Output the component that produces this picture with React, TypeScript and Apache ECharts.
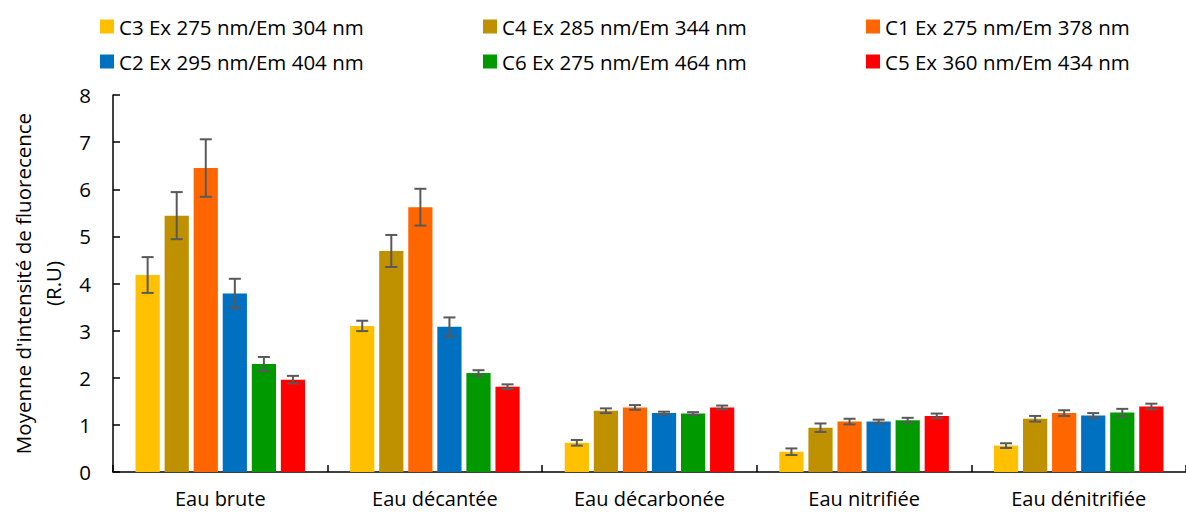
import React, { useEffect, useRef } from "react";
import * as echarts from "echarts";

const categories = ["Eau brute", "Eau décantée", "Eau décarbonée", "Eau nitrifiée", "Eau dénitrifiée"];
const seriesNames = [
  "C3 Ex 275 nm/Em 304 nm",
  "C4 Ex 285 nm/Em 344 nm",
  "C1 Ex 275 nm/Em 378 nm",
  "C2 Ex 295 nm/Em 404 nm",
  "C6 Ex 275 nm/Em 464 nm",
  "C5 Ex 360 nm/Em 434 nm",
];
const seriesColors = ["#FFC000", "#BF9000", "#FF6600", "#0070C0", "#009900", "#FF0000"];

const c3Values = [4.18, 3.1, 0.62, 0.43, 0.56];
const c4Values = [5.44, 4.69, 1.3, 0.94, 1.13];
const c1Values = [6.45, 5.62, 1.37, 1.07, 1.25];
const c2Values = [3.79, 3.08, 1.25, 1.07, 1.2];
const c6Values = [2.29, 2.1, 1.24, 1.1, 1.26];
const c5Values = [1.96, 1.81, 1.37, 1.19, 1.39];

const c3Errors = [0.38, 0.11, 0.06, 0.07, 0.05];
const c4Errors = [0.5, 0.34, 0.05, 0.09, 0.06];
const c1Errors = [0.61, 0.39, 0.05, 0.06, 0.06];
const c2Errors = [0.31, 0.2, 0.03, 0.04, 0.05];
const c6Errors = [0.15, 0.06, 0.03, 0.05, 0.08];
const c5Errors = [0.08, 0.05, 0.04, 0.05, 0.06];

const allValues = [c3Values, c4Values, c1Values, c2Values, c6Values, c5Values];
const allErrors = [c3Errors, c4Errors, c1Errors, c2Errors, c6Errors, c5Errors];

const yTicks = { min: 0, max: 8, interval: 1 };
const yAxisName = "Moyenne d'intensité de fluorecence\n(R.U)";

const FONT = "'Open Sans', sans-serif";
const CAT_GAP = 0.21;
const BAR_GAP = 0.2;

export default function App() {
  const ref = useRef<HTMLDivElement>(null);

  useEffect(() => {
    if (!ref.current) return;
    const chart = echarts.init(ref.current, undefined, { renderer: "svg" });
    const n = seriesNames.length;

    const barSeries = seriesNames.map((name, i) => ({
      name,
      type: "bar",
      data: allValues[i],
      barGap: `${BAR_GAP * 100}%`,
      barCategoryGap: `${CAT_GAP * 100}%`,
      itemStyle: { color: seriesColors[i] },
      z: 2,
    }));

    const errSeries = seriesNames.map((name, s) => ({
      name: "err-" + name,
      type: "custom",
      z: 5,
      silent: true,
      data: allValues[s].map((v, k) => [k, v, allErrors[s][k]]),
      encode: { x: 0, y: 1 },
      renderItem: (params: any, api: any) => {
        const k = api.value(0);
        const mean = api.value(1);
        const err = api.value(2);
        const band = api.size([1, 0])[0];
        const bw = (band * (1 - CAT_GAP)) / (n + (n - 1) * BAR_GAP);
        const gap = bw * BAR_GAP;
        const total = n * bw + (n - 1) * gap;
        const cx = api.coord([k, 0])[0] - total / 2 + s * (bw + gap) + bw / 2;
        const yTop = api.coord([k, mean + err])[1];
        const yBot = api.coord([k, mean - err])[1];
        const cap = 6;
        const style = { stroke: "#595959", lineWidth: 2 };
        return {
          type: "group",
          children: [
            { type: "line", shape: { x1: cx, y1: yTop, x2: cx, y2: yBot }, style },
            { type: "line", shape: { x1: cx - cap, y1: yTop, x2: cx + cap, y2: yTop }, style },
            { type: "line", shape: { x1: cx - cap, y1: yBot, x2: cx + cap, y2: yBot }, style },
          ],
        };
      },
    }));

    chart.setOption({
      animation: false,
      textStyle: { fontFamily: FONT },
      legend: {
        data: seriesNames,
        left: 95,
        top: 11,
        width: 1140,
        itemWidth: 14,
        itemHeight: 14,
        itemGap: 14,
        icon: "rect",
        selectedMode: false,
        textStyle: {
          fontFamily: FONT,
          fontSize: 20.5,
          color: "#000",
          width: 350,
          lineHeight: 20,
        },
      },
      grid: { left: 107, top: 95, width: 1086, height: 377 },
      xAxis: {
        type: "category",
        data: categories,
        axisLine: { lineStyle: { color: "#000", width: 1.5 } },
        axisTick: { show: true, inside: true, length: 7, lineStyle: { color: "#000", width: 1.5 } },
        axisLabel: { color: "#000", fontSize: 20, fontFamily: FONT, margin: 17, lineHeight: 18 },
        splitLine: { show: false },
      },
      yAxis: {
        type: "value",
        min: yTicks.min,
        max: yTicks.max,
        interval: yTicks.interval,
        name: yAxisName,
        nameLocation: "middle",
        nameGap: 45,
        nameTextStyle: { color: "#000", fontSize: 20.5, fontFamily: FONT, lineHeight: 30 },
        axisLine: { show: true, lineStyle: { color: "#000", width: 1.5 } },
        axisTick: { show: true, inside: true, length: 7, lineStyle: { color: "#000", width: 1.5 } },
        axisLabel: { color: "#000", fontSize: 20.5, fontFamily: FONT, margin: 22 },
        splitLine: { show: false },
      },
      series: [...barSeries, ...errSeries],
    });

    return () => chart.dispose();
  }, []);

  return (
    <div
      ref={ref}
      style={{ position: "fixed", left: 0, top: 0, width: 1186, height: 513, background: "#fff" }}
    />
  );
}
